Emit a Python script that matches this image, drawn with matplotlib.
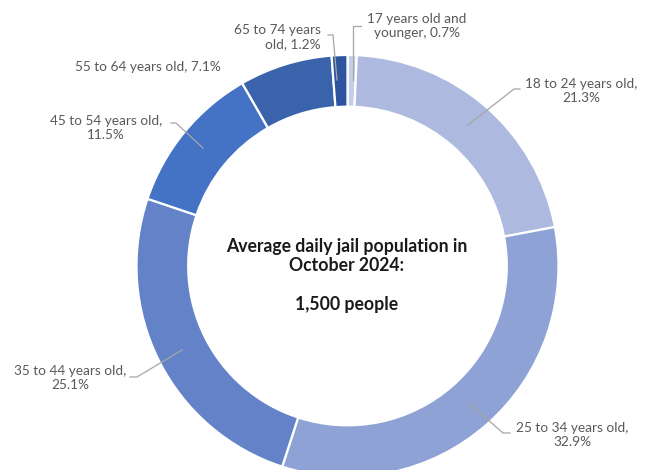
import matplotlib
matplotlib.use("Agg")
import matplotlib.pyplot as plt
import numpy as np

categories = ["17 years old and younger", "18 to 24 years old", "25 to 34 years old",
              "35 to 44 years old", "45 to 54 years old", "55 to 64 years old",
              "65 to 74 years old"]
values = [0.7, 21.3, 32.9, 25.1, 11.5, 7.1, 1.2]
labels = ["17 years old and\nyounger, 0.7%", "18 to 24 years old,\n21.3%",
          "25 to 34 years old,\n32.9%", "35 to 44 years old,\n25.1%",
          "45 to 54 years old,\n11.5%", "55 to 64 years old, 7.1%",
          "65 to 74 years\nold, 1.2%"]
colors = ["#c6cde9", "#adb9df", "#8fa2d5", "#6382c8", "#4472c4", "#3b63ac", "#2e549f"]
center_text = "Average daily jail population in\nOctober 2024:\n\n1,500 people"

W, H = 646, 470
fig = plt.figure(figsize=(W / 100, H / 100), dpi=100)
ax = fig.add_axes([0, 0, 1, 1])

cx, cy, R = 347.5, H - 266, 211
ax.pie(values, colors=colors, startangle=90, counterclock=False,
       center=(cx, cy), radius=R, frame=True,
       wedgeprops=dict(width=R * 0.245, edgecolor="white", linewidth=1.6))
ax.set_xlim(0, W)
ax.set_ylim(0, H)
ax.set_aspect("equal")
ax.axis("off")

# label anchor (pixel coords from top), alignment, and leader polylines
label_pos = [(417, 26), (581.5, 91), (572, 435), (70, 378), (106, 128), (148, 67), (321, 37)]
label_ha = ["center", "center", "center", "center", "center", "center", "right"]
leaders = [
    [(353, 80), (353, 26), (361, 26)],
    [(468, 125), (514, 89), (520, 89)],
    [(470, 404), (503, 433), (510, 433)],
    [(182, 350), (137, 377), (130, 377)],
    [(203, 148), (176, 123), (171, 123)],
    None,
    [(337, 80), (333, 35), (328, 35)],
]

gray = "#595959"
for lab, (x, y), ha, ld in zip(labels, label_pos, label_ha, leaders):
    ax.text(x, H - y, lab, ha=ha, va="center", fontsize=9.8,
            color=gray, family="Lato", linespacing=1.2, multialignment=ha)
    if ld is not None:
        xs = [p[0] for p in ld]
        ys = [H - p[1] for p in ld]
        ax.plot(xs, ys, color="#a6a6a6", lw=0.9)

ax.text(cx - 1, H - 275.5, center_text, ha="center", va="center", fontsize=12.7,
        fontweight="bold", color="#1a1a1a", family="Lato", linespacing=1.18)

fig.savefig("out.png", dpi=100)
